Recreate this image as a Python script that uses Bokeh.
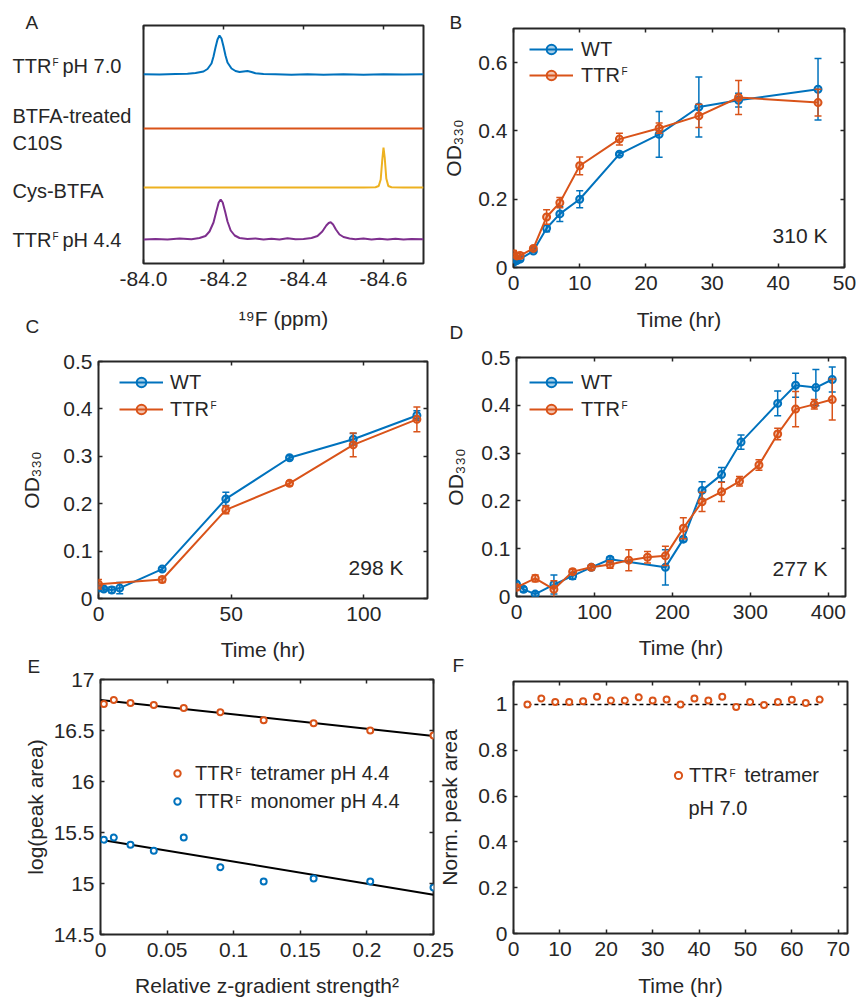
import math
from bokeh.plotting import figure
from bokeh.models import (Range1d, FixedTicker, LinearAxis, Legend, LegendItem,
                          CustomJSTickFormatter, ColumnDataSource)
from bokeh.core.properties import value
from bokeh.layouts import row, column
from bokeh.embed import file_html
from bokeh.resources import INLINE

FONT = "Liberation Sans"
INK = "#262626"
BLUE, ORANGE, YELLOW, PURPLE = "#0072BD", "#D95319", "#EDB120", "#7E2F8E"
TICK_PX = "21px"
LAB_PX = "21px"
LEG_PX = "20px"
NB = "\u00a0"

# ------------------------------------------------------------------ data
# Panel A: 19F spectra (chemical shift in ppm, relative intensity)
a_ttr70_ppm = [-84.00, -84.04, -84.08, -84.11, -84.13, -84.15, -84.16, -84.17, -84.175, -84.18,
               -84.185, -84.19, -84.195, -84.20, -84.205, -84.21, -84.22, -84.23, -84.24, -84.25,
               -84.26, -84.27, -84.28, -84.30, -84.33, -84.37, -84.41, -84.45, -84.50, -84.55,
               -84.60, -84.65, -84.70]
a_ttr70_int = [0.3, 0.0, 0.5, 0.8, 1.5, 3.0, 5.5, 11, 18, 27,
               35, 39, 36, 28, 19, 12, 6, 3.5, 2.5, 3.0,
               3.5, 2.5, 1.2, 0.4, 0.2, -0.3, 0.3, -0.2, 0.2, -0.2,
               0.3, -0.1, 0.3]
a_c10s_ppm = [-84.00, -84.35, -84.70]
a_c10s_int = [0.0, 0.0, 0.0]
a_cys_ppm = [-84.00, -84.20, -84.40, -84.55, -84.58, -84.588, -84.593, -84.597, -84.600,
             -84.603, -84.607, -84.612, -84.62, -84.65, -84.70]
a_cys_int = [0, 0, 0, 0, 0.3, 1.5, 8, 28, 40, 30, 9, 1.5, 0.3, 0, 0]
a_ttr44_ppm = [-84.00, -84.03, -84.06, -84.09, -84.12, -84.14, -84.155, -84.165, -84.175, -84.182,
               -84.188, -84.193, -84.198, -84.204, -84.21, -84.218, -84.228, -84.24, -84.26, -84.28,
               -84.30, -84.32, -84.34, -84.36, -84.38, -84.40, -84.42, -84.435, -84.447, -84.457,
               -84.463, -84.468, -84.474, -84.481, -84.49, -84.50, -84.515, -84.53, -84.55, -84.57,
               -84.59, -84.61, -84.63, -84.65, -84.67, -84.70]
a_ttr44_int = [0.0, 0.6, 0.0, 0.9, 0.3, 1.5, 3.5, 8, 17, 28,
               37, 40, 37, 28, 18, 9, 4, 1.5, 0.5, 1.0,
               0.0, 0.8, 0.0, 1.2, 0.2, 0.5, 1.5, 3.5, 8, 14,
               16.5, 17.3, 15, 10, 5, 2.5, 1.0, 0.3, 1.0, 0.0,
               0.8, 0.0, 0.8, 0.0, 0.6, 0.2]
a_names = ["TTR" + NB + NB + "pH 7.0", "BTFA-treated", "C10S", "Cys-BTFA", "TTR" + NB + NB + "pH 4.4"]
a_ticks = [-84.0, -84.2, -84.4, -84.6]

# Panel B: 310 K
b_time = [0, 0.5, 1, 3, 5, 7, 10, 16, 22, 28, 34, 46]
b_wt = [0.015, 0.020, 0.025, 0.048, 0.115, 0.157, 0.200, 0.332, 0.390, 0.470, 0.490, 0.522]
b_wt_err = [0.005, 0.005, 0.005, 0.004, 0.010, 0.022, 0.025, 0.005, 0.067, 0.088, 0.020, 0.090]
b_ttrf = [0.040, 0.034, 0.035, 0.056, 0.148, 0.190, 0.298, 0.376, 0.408, 0.444, 0.498, 0.483]
b_ttrf_err = [0.010, 0.008, 0.008, 0.005, 0.021, 0.015, 0.026, 0.017, 0.015, 0.034, 0.050, 0.039]

# Panel C: 298 K
c_time_wt = [0, 2, 5, 8, 24, 48, 72, 96, 120]
c_wt = [0.022, 0.020, 0.018, 0.022, 0.062, 0.210, 0.297, 0.336, 0.386]
c_wt_err = [0.005, 0.004, 0.006, 0.012, 0.004, 0.014, 0.004, 0.012, 0.010]
c_time_f = [0, 24, 48, 72, 96, 120]
c_ttrf = [0.030, 0.040, 0.187, 0.243, 0.324, 0.378]
c_ttrf_err = [0.010, 0.006, 0.008, 0.005, 0.025, 0.026]

# Panel D: 277 K
d_time_wt = [0, 9, 24, 48, 72, 96, 120, 191, 214, 238, 263, 288, 335, 358, 384, 405]
d_wt = [0.026, 0.015, 0.005, 0.025, 0.043, 0.061, 0.078, 0.061, 0.120, 0.222, 0.255, 0.323,
        0.404, 0.442, 0.437, 0.454]
d_wt_err = [0.005, 0.005, 0.005, 0.020, 0.007, 0.005, 0.005, 0.037, 0.005, 0.018, 0.015, 0.015,
            0.026, 0.025, 0.038, 0.026]
d_time_f = [0, 24, 48, 72, 96, 120, 144, 168, 191, 214, 238, 263, 286, 311, 335, 358, 382, 405]
d_ttrf = [0.019, 0.038, 0.015, 0.052, 0.061, 0.067, 0.076, 0.082, 0.085, 0.143, 0.198, 0.219,
          0.241, 0.275, 0.340, 0.392, 0.402, 0.412]
d_ttrf_err = [0.005, 0.007, 0.018, 0.005, 0.005, 0.008, 0.022, 0.012, 0.020, 0.022, 0.020, 0.020,
              0.010, 0.011, 0.012, 0.037, 0.010, 0.043]

# Panel E: diffusion (relative z-gradient strength squared)
e_g2 = [0.0025, 0.01, 0.0225, 0.04, 0.0625, 0.09, 0.1225, 0.16, 0.2025, 0.25]
e_tetramer = [16.76, 16.80, 16.77, 16.75, 16.72, 16.68, 16.60, 16.57, 16.50, 16.45]
e_monomer = [15.43, 15.45, 15.38, 15.32, 15.45, 15.16, 15.02, 15.05, 15.02, 14.96]
e_tet_fit = (16.80, -1.42)    # intercept, slope
e_mono_fit = (15.43, -2.16)

# Panel F: stability at pH 7.0
f_time = [3, 6, 9, 12, 15, 18, 21, 24, 27, 30, 33, 36, 39, 42, 45, 48, 51, 54, 57, 60, 63, 66]
f_area = [1.000, 1.026, 1.011, 1.011, 1.014, 1.033, 1.017, 1.017, 1.031, 1.017, 1.021, 1.000,
          1.026, 1.017, 1.033, 0.989, 1.011, 0.997, 1.011, 1.020, 1.006, 1.021]
f_ref = 1.0

panel_letters = ["A", "B", "C", "D", "E", "F"]
temperatures = ["310 K", "298 K", "277 K"]

# ------------------------------------------------------------------ helpers
NUMFMT = "return String(Math.round(tick*1000)/1000);"


def base_fig(box, frame, xr, yr, yaxis=True):
    fx, fy, fw, fh = box
    fl, ft, fr, fb = frame
    p = figure(width=fw, height=fh, x_range=xr, y_range=yr, output_backend="svg",
               toolbar_location=None, tools="",
               min_border_left=fl - fx, min_border_right=fx + fw - fr,
               min_border_top=ft - fy, min_border_bottom=fy + fh - fb,
               y_axis_location="left" if yaxis else None)
    p.border_fill_color = None
    p.background_fill_color = None
    p.outline_line_color = INK
    p.outline_line_width = 2
    p.xgrid.visible = False
    p.ygrid.visible = False
    return p


def style_axis(ax, ticks, label, label_standoff, code=NUMFMT, tick_standoff=6):
    ax.ticker = FixedTicker(ticks=ticks)
    ax.formatter = CustomJSTickFormatter(code=code)
    ax.minor_tick_line_color = None
    ax.major_tick_in = 4
    ax.major_tick_out = 0
    ax.major_tick_line_color = INK
    ax.major_tick_line_width = 1.5
    ax.axis_line_color = None
    ax.major_label_text_font = FONT
    ax.major_label_text_font_size = TICK_PX
    ax.major_label_text_color = INK
    ax.major_label_standoff = tick_standoff
    ax.axis_label = label
    ax.axis_label_text_font = FONT
    ax.axis_label_text_font_size = LAB_PX
    ax.axis_label_text_font_style = "normal"
    ax.axis_label_text_color = INK
    ax.axis_label_standoff = label_standoff


def mirror(p, ticks, side):
    ax = LinearAxis(ticker=FixedTicker(ticks=ticks),
                    formatter=CustomJSTickFormatter(code="return '';"),
                    major_tick_in=4, major_tick_out=0, minor_tick_line_color=None,
                    axis_line_color=None, major_tick_line_color=INK, major_tick_line_width=1.5,
                    major_label_standoff=0, major_label_text_font_size="1px")
    p.add_layout(ax, side)


def growth(p, t, y, e, color):
    src = ColumnDataSource(dict(t=t, y=y,
                                lo=[a - b for a, b in zip(y, e)],
                                hi=[a + b for a, b in zip(y, e)]))
    p.segment(x0="t", y0="lo", x1="t", y1="hi", source=src, line_color=color, line_width=1.5)
    p.scatter(x="t", y="lo", source=src, marker="dash", size=7, line_color=color, line_width=1.5)
    p.scatter(x="t", y="hi", source=src, marker="dash", size=7, line_color=color, line_width=1.5)
    ln = p.line(x="t", y="y", source=src, line_color=color, line_width=2)
    mk = p.scatter(x="t", y="y", source=src, marker="circle", size=7, line_color=color,
                   line_width=2, fill_color=color, fill_alpha=0.35)
    # legend-only key for the error bar (no data, so nothing is drawn in the plot)
    eb = p.scatter(x=[], y=[], marker="dash", angle=math.pi / 2, line_color=color, line_width=1.5)
    return [ln, eb, mk]


ITEM_H = 24


def legend(p, frame, items, glyph_left, glyph_w, text_left, first_center, step):
    fl, ft, fr, fb = frame
    n = len(items)
    spacing = max(step - ITEM_H, 0)
    top = first_center - ITEM_H / 2
    bottom = top + n * ITEM_H + (n - 1) * spacing
    leg = Legend(items=items, location=(glyph_left - fl, fb - bottom), padding=0, margin=0,
                 spacing=spacing, glyph_width=glyph_w, glyph_height=ITEM_H,
                 label_height=ITEM_H, label_standoff=text_left - glyph_left - glyph_w,
                 background_fill_alpha=0, border_line_alpha=0,
                 label_text_font=FONT, label_text_font_size=LEG_PX, label_text_color=INK)
    p.add_layout(leg)


# ------------------------------------------------------------------ panel A
FA = (143, 25, 423, 263)
pA = base_fig((0, 0, 435, 333), FA, Range1d(-84.0, -84.7), Range1d(0, 238), yaxis=False)
style_axis(pA.xaxis[0], a_ticks, "\u00b9\u2079F (ppm)", 18,
           code="return tick.toFixed(1);", tick_standoff=8)
mirror(pA, a_ticks, "above")
a_offsets = [189, 135, 76, 24]
for ppm, inten, off, col in zip([a_ttr70_ppm, a_c10s_ppm, a_cys_ppm, a_ttr44_ppm],
                                [a_ttr70_int, a_c10s_int, a_cys_int, a_ttr44_int],
                                a_offsets, [BLUE, ORANGE, YELLOW, PURPLE]):
    pA.line(ppm, [v + off for v in inten], line_color=col, line_width=2)

# ------------------------------------------------------------------ panel B
FB = (513, 28, 844, 267)
pB = base_fig((435, 0, 422, 340), FB, Range1d(0, 50), Range1d(0, 0.7))
style_axis(pB.xaxis[0], [0, 10, 20, 30, 40, 50], "Time (hr)", 15, tick_standoff=8)
style_axis(pB.yaxis[0], [0, 0.2, 0.4, 0.6], "OD\u2083\u2083\u2080", 10)
mirror(pB, [0, 10, 20, 30, 40, 50], "above")
mirror(pB, [0, 0.2, 0.4, 0.6], "right")
rb1 = growth(pB, b_time, b_wt, b_wt_err, BLUE)
rb2 = growth(pB, b_time, b_ttrf, b_ttrf_err, ORANGE)
legend(pB, FB, [LegendItem(label="WT", renderers=rb1), LegendItem(label="TTR", renderers=rb2)],
       529, 44, 581, 49, 26)

# ------------------------------------------------------------------ panel C
FC = (98, 361, 427, 598)
pC = base_fig((0, 333, 435, 333), FC, Range1d(0, 124), Range1d(0, 0.5))
style_axis(pC.xaxis[0], [0, 50, 100], "Time (hr)", 14, tick_standoff=8)
style_axis(pC.yaxis[0], [0, 0.1, 0.2, 0.3, 0.4, 0.5], "OD\u2083\u2083\u2080", 17)
mirror(pC, [0, 50, 100], "above")
mirror(pC, [0, 0.1, 0.2, 0.3, 0.4, 0.5], "right")
rc1 = growth(pC, c_time_wt, c_wt, c_wt_err, BLUE)
rc2 = growth(pC, c_time_f, c_ttrf, c_ttrf_err, ORANGE)
legend(pC, FC, [LegendItem(label="WT", renderers=rc1), LegendItem(label="TTR", renderers=rc2)],
       119, 44, 170, 382, 27)

# ------------------------------------------------------------------ panel D
FD = (516, 357, 845, 596)
pD = base_fig((435, 340, 422, 326), FD, Range1d(0, 422), Range1d(0, 0.5))
style_axis(pD.xaxis[0], [0, 100, 200, 300, 400], "Time (hr)", 14, tick_standoff=8)
style_axis(pD.yaxis[0], [0, 0.1, 0.2, 0.3, 0.4, 0.5], "OD\u2083\u2083\u2080", 11)
mirror(pD, [0, 100, 200, 300, 400], "above")
mirror(pD, [0, 0.1, 0.2, 0.3, 0.4, 0.5], "right")
rd1 = growth(pD, d_time_wt, d_wt, d_wt_err, BLUE)
rd2 = growth(pD, d_time_f, d_ttrf, d_ttrf_err, ORANGE)
legend(pD, FD, [LegendItem(label="WT", renderers=rd1), LegendItem(label="TTR", renderers=rd2)],
       529, 44, 581, 382, 27)

# ------------------------------------------------------------------ panel E
FE = (100, 679, 433, 937)
pE = base_fig((0, 666, 460, 333), FE, Range1d(0, 0.25), Range1d(14.5, 17))
e_xt = [0, 0.05, 0.1, 0.15, 0.2, 0.25]
e_yt = [14.5, 15, 15.5, 16, 16.5, 17]
style_axis(pE.xaxis[0], e_xt, "Relative z-gradient strength\u00b2", 14, tick_standoff=8)
style_axis(pE.yaxis[0], e_yt, "log(peak area)", 4)
mirror(pE, e_xt, "above")
mirror(pE, e_yt, "right")
x_fit = [0, e_g2[-1]]
pE.line(x_fit, [e_tet_fit[0] + e_tet_fit[1] * x for x in x_fit], line_color="black", line_width=2)
pE.line(x_fit, [e_mono_fit[0] + e_mono_fit[1] * x for x in x_fit], line_color="black", line_width=2)
re1 = pE.scatter(e_g2, e_tetramer, marker="circle", size=6, line_color=ORANGE, line_width=2,
                 fill_color="white")
re2 = pE.scatter(e_g2, e_monomer, marker="circle", size=6, line_color=BLUE, line_width=2,
                 fill_color="white")
legend(pE, FE, [LegendItem(label="TTR" + NB * 3 + "tetramer pH 4.4", renderers=[re1]),
                LegendItem(label="TTR" + NB * 3 + "monomer pH 4.4", renderers=[re2])],
       169, 16, 195, 776, 28)

# ------------------------------------------------------------------ panel F
FF = (509, 681, 847, 937)
pF = base_fig((435, 666, 422, 333), FF, Range1d(0, 72), Range1d(0, 1.1))
f_xt = [0, 10, 20, 30, 40, 50, 60, 70]
f_yt = [0, 0.2, 0.4, 0.6, 0.8, 1]
style_axis(pF.xaxis[0], f_xt, "Time (hr)", 15, tick_standoff=8)
style_axis(pF.yaxis[0], f_yt, "Norm. peak area", 14)
mirror(pF, f_xt, "above")
mirror(pF, f_yt, "right")
pF.line([f_time[0], f_time[-1]], [f_ref, f_ref], line_color="black", line_width=1.5,
        line_dash="4 3")
rf = pF.scatter(f_time, f_area, marker="circle", size=6, line_color=ORANGE, line_width=2,
                fill_color="white")
legend(pF, FF, [LegendItem(label="TTR" + NB * 3 + "tetramer", renderers=[rf])],
       665, 18, 685, 779, 28)

# ------------------------------------------------------------------ overlay for free texts
ov = figure(width=857, height=999, x_range=Range1d(0, 857), y_range=Range1d(999, 0),
            output_backend="svg", toolbar_location=None, tools="", min_border=0,
            x_axis_location=None, y_axis_location=None)
ov.border_fill_color = None
ov.background_fill_color = None
ov.outline_line_color = None
ov.xgrid.visible = False
ov.ygrid.visible = False


def ov_text(xs, ys, texts, size, align="left"):
    src = ColumnDataSource(dict(x=xs, y=ys, t=texts))
    ov.text(x="x", y="y", text="t", source=src, text_font=value(FONT), text_font_size=size,
            text_color=INK, text_align=align, text_baseline="middle")


ov_text([12, 12, 12, 12, 12], [65.5, 115.5, 142, 190, 239.5], a_names, "20px")
ov_text([688], [807], ["pH 7.0"], LEG_PX)
ov_text([827, 403, 827], [234.5, 566.5, 568], temperatures, "21px", align="right")
ov_text([25, 449, 25, 449, 27, 452], [22, 21.5, 326, 332, 666, 665], panel_letters, "19px")
ov_text([52, 52, 621, 210, 621, 235, 235, 729], [61.5, 235.5, 71, 405, 405, 772, 800, 773],
        ["F"] * 8, "10px")

# ------------------------------------------------------------------ layout
left = column(column(pA), column(pC), column(pE))
right = column(column(pB), column(pD), column(pF))
right.margin = (0, 0, 0, -25)
ov.margin = (-999, 0, 0, 0)
layout = column(row(left, right), ov)

open("out.html", "w").write(file_html(layout, INLINE))
